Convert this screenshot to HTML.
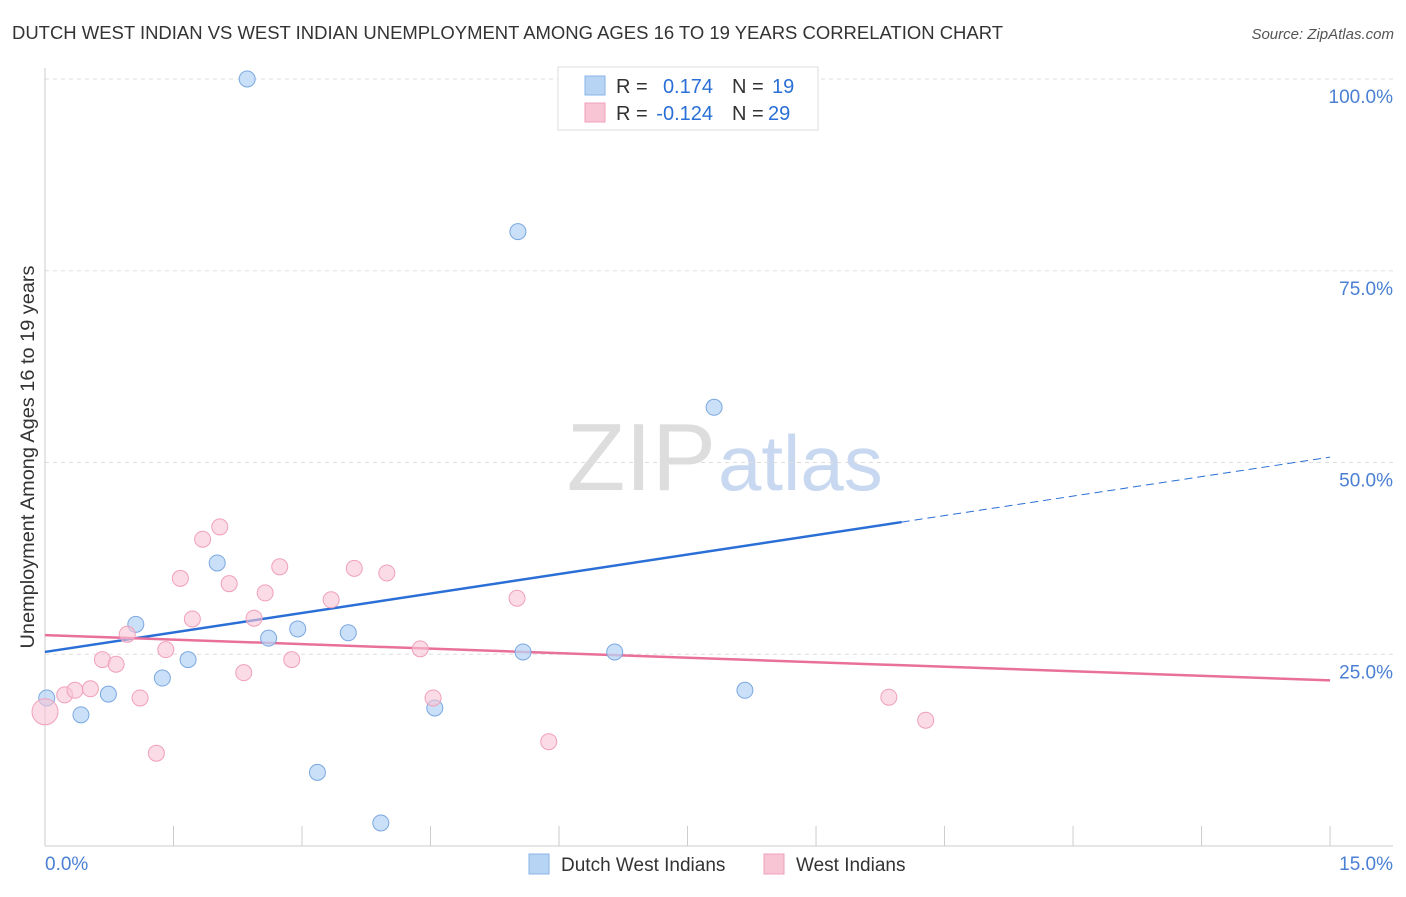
<!DOCTYPE html>
<html><head><meta charset="utf-8"><style>
body{margin:0;background:#fff;font-family:"Liberation Sans",sans-serif;}
svg text{font-family:"Liberation Sans",sans-serif;}
</style></head><body>
<svg id="chart" width="1406" height="892">
<text x="12" y="39" font-size="18" fill="#333" textLength="991" lengthAdjust="spacingAndGlyphs">DUTCH WEST INDIAN VS WEST INDIAN UNEMPLOYMENT AMONG AGES 16 TO 19 YEARS CORRELATION CHART</text>
<text x="1394" y="39" font-size="15" fill="#555" text-anchor="end" font-style="italic">Source: ZipAtlas.com</text>
<text x="716" y="490" font-size="96" fill="#ddd" text-anchor="end" font-family="Liberation Serif">ZIP</text>
<text x="718" y="490" font-size="78" fill="#c8d8f0">atlas</text>
<text transform="translate(34,457) rotate(-90)" font-size="19" fill="#333" text-anchor="middle" textLength="383" lengthAdjust="spacingAndGlyphs">Unemployment Among Ages 16 to 19 years</text>
<g id="grid"></g><g id="lines"></g><g id="pts"></g>
<g>
<rect x="558" y="67" width="260" height="63" fill="#fff" stroke="#ddd"/>
<rect x="585" y="76" width="20" height="19" fill="#b8d4f5" stroke="#8ab4e8"/>
<rect x="585" y="103" width="20" height="19" fill="#f8c5d5" stroke="#f0a0b8"/>
<text x="616" y="93" font-size="20" fill="#333">R =</text><text x="713" y="93" font-size="20" fill="#2a6fd6" text-anchor="end">0.174</text>
<text x="732" y="93" font-size="20" fill="#333">N =</text><text x="772" y="93" font-size="20" fill="#2a6fd6">19</text>
<text x="616" y="120" font-size="20" fill="#333">R =</text><text x="713" y="120" font-size="20" fill="#2a6fd6" text-anchor="end">-0.124</text>
<text x="732" y="120" font-size="20" fill="#333">N =</text><text x="768" y="120" font-size="20" fill="#2a6fd6">29</text>
</g>
<g>
<rect x="529" y="854" width="20" height="20" fill="#b8d4f5" stroke="#8ab4e8"/>
<text x="561" y="871" font-size="19" fill="#333">Dutch West Indians</text>
<rect x="764" y="854" width="20" height="20" fill="#f8c5d5" stroke="#f0a0b8"/>
<text x="796" y="871" font-size="19" fill="#333">West Indians</text>
</g>
</svg>
<script>
const blueX=[0.02,0.42,0.74,1.06,1.37,1.67,2.01,2.36,2.61,2.95,3.18,3.54,3.92,4.55,5.52,5.58,6.65,7.81,8.17];
const blueY=[19.3,17.1,19.8,28.9,21.9,24.3,36.9,100,27.1,28.3,9.6,27.8,3.0,18.0,80.1,25.3,25.3,57.2,20.3];
const pinkX=[0,0.23,0.35,0.53,0.67,0.83,0.96,1.11,1.30,1.41,1.58,1.72,1.84,2.04,2.15,2.32,2.44,2.57,2.74,2.88,3.34,3.61,3.99,4.38,4.53,5.51,5.88,9.85,10.28];
const pinkY=[17.5,19.7,20.3,20.5,24.3,23.7,27.6,19.3,12.1,25.6,34.9,29.6,40.0,41.6,34.2,22.6,29.7,33.0,36.4,24.3,32.1,36.2,35.6,25.7,19.3,32.3,13.6,19.4,16.4];
const blueTrend=[25.3,50.7];
const pinkTrend=[27.5,21.6];
const yTicks=[25,50,75,100];
const yTickLabels=["25.0%","50.0%","75.0%","100.0%"];
const xTicks=[0,1.5,3,4.5,6,7.5,9,10.5,12,13.5,15];
const X=v=>45+v*85.67, Y=v=>846-v*7.67;
const NS="http://www.w3.org/2000/svg";
function mk(p,t,a){const e=document.createElementNS(NS,t);for(const k in a)e.setAttribute(k,a[k]);document.getElementById(p).appendChild(e);return e;}
let e;
yTicks.forEach((t,i)=>{
 e=mk('grid','line',{x1:45,x2:1393,y1:Y(t),y2:Y(t),stroke:'#ddd','stroke-dasharray':'4,4'});
 
 
 e=mk('grid','text',{x:1393,y:Y(t)+24,'font-size':19,fill:'#4a7fd4','text-anchor':'end'});e.textContent=yTickLabels[i];
 
 
});
e=mk('grid','line',{x1:45,x2:45,y1:68,y2:846,stroke:'#ccc'});


e=mk('grid','line',{x1:45,x2:1393,y1:846,y2:846,stroke:'#ccc'});


xTicks.forEach(t=>{e=mk('grid','line',{x1:X(t),x2:X(t),y1:826,y2:846,stroke:'#ccc'});
 
 });
e=mk('grid','text',{x:45,y:870,'font-size':19,fill:'#4a7fd4'});e.textContent=xTicks[0].toFixed(1)+"%";


e=mk('grid','text',{x:1393,y:870,'font-size':19,fill:'#4a7fd4','text-anchor':'end'});e.textContent=xTicks[xTicks.length-1].toFixed(1)+"%";


blueX.forEach((x,i)=>{e=mk('pts','circle',{cx:X(x),cy:Y(blueY[i]),r:8,fill:'#b8d4f5','fill-opacity':0.75,stroke:'#7aa8e0'});
 
 });
pinkX.forEach((x,i)=>{e=mk('pts','circle',{cx:X(x),cy:Y(pinkY[i]),r:i==0?13:8,fill:'#f8c5d5','fill-opacity':0.6,stroke:'#f0a0b8'});
 
 });
const bAt=x=>blueTrend[0]+(blueTrend[1]-blueTrend[0])*x/15;
e=mk('lines','line',{x1:X(0),y1:Y(bAt(0)),x2:X(10),y2:Y(bAt(10)),stroke:'#2a6fd6','stroke-width':2.5});


e=mk('lines','line',{x1:X(10),y1:Y(bAt(10)),x2:X(15),y2:Y(bAt(15)),stroke:'#2a6fd6','stroke-width':1,'stroke-dasharray':'8,5'});


e=mk('lines','line',{x1:X(0),y1:Y(pinkTrend[0]),x2:X(15),y2:Y(pinkTrend[1]),stroke:'#e8709a','stroke-width':2.5});


</script>
</body></html>
